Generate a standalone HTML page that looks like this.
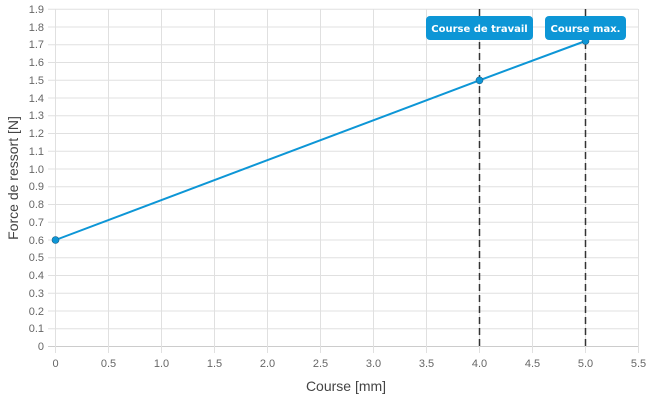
<!DOCTYPE html>
<html><head><style>body{margin:0;background:#fff}svg{display:block}</style></head><body>
<svg width="650" height="400" xmlns="http://www.w3.org/2000/svg" font-family="Liberation Sans, sans-serif">
<g stroke="#e0e0e0" stroke-width="1">
<line x1="48" x2="638" y1="346.5" y2="346.5" stroke="#ccc"/>
<line x1="48" x2="638" y1="328.8" y2="328.8"/><line x1="48" x2="638" y1="311.0" y2="311.0"/><line x1="48" x2="638" y1="293.3" y2="293.3"/><line x1="48" x2="638" y1="275.5" y2="275.5"/><line x1="48" x2="638" y1="257.8" y2="257.8"/><line x1="48" x2="638" y1="240.0" y2="240.0"/><line x1="48" x2="638" y1="222.3" y2="222.3"/><line x1="48" x2="638" y1="204.5" y2="204.5"/><line x1="48" x2="638" y1="186.8" y2="186.8"/><line x1="48" x2="638" y1="169.0" y2="169.0"/><line x1="48" x2="638" y1="151.3" y2="151.3"/><line x1="48" x2="638" y1="133.5" y2="133.5"/><line x1="48" x2="638" y1="115.8" y2="115.8"/><line x1="48" x2="638" y1="98.0" y2="98.0"/><line x1="48" x2="638" y1="80.3" y2="80.3"/><line x1="48" x2="638" y1="62.5" y2="62.5"/><line x1="48" x2="638" y1="44.8" y2="44.8"/><line x1="48" x2="638" y1="27.0" y2="27.0"/><line x1="48" x2="638" y1="9.3" y2="9.3"/>
<line x1="55.5" x2="55.5" y1="9" y2="353"/><line x1="108.5" x2="108.5" y1="9" y2="353"/><line x1="161.5" x2="161.5" y1="9" y2="353"/><line x1="214.5" x2="214.5" y1="9" y2="353"/><line x1="267.5" x2="267.5" y1="9" y2="353"/><line x1="320.5" x2="320.5" y1="9" y2="353"/><line x1="373.5" x2="373.5" y1="9" y2="353"/><line x1="426.5" x2="426.5" y1="9" y2="353"/><line x1="479.5" x2="479.5" y1="9" y2="353"/><line x1="532.5" x2="532.5" y1="9" y2="353"/><line x1="585.5" x2="585.5" y1="9" y2="353"/><line x1="638.5" x2="638.5" y1="9" y2="353"/>
</g>
<g font-size="11" fill="#666" text-anchor="end">
<text x="44" y="350">0</text><text x="44" y="332">0.1</text><text x="44" y="315">0.2</text><text x="44" y="297">0.3</text><text x="44" y="279">0.4</text><text x="44" y="261">0.5</text><text x="44" y="244">0.6</text><text x="44" y="226">0.7</text><text x="44" y="208">0.8</text><text x="44" y="190">0.9</text><text x="44" y="173">1.0</text><text x="44" y="155">1.1</text><text x="44" y="137">1.2</text><text x="44" y="119">1.3</text><text x="44" y="102">1.4</text><text x="44" y="84">1.5</text><text x="44" y="66">1.6</text><text x="44" y="48">1.7</text><text x="44" y="31">1.8</text><text x="44" y="13">1.9</text>
</g>
<g font-size="11" fill="#666" text-anchor="middle">
<text x="55.5" y="367">0</text><text x="108.5" y="367">0.5</text><text x="161.5" y="367">1.0</text><text x="214.5" y="367">1.5</text><text x="267.5" y="367">2.0</text><text x="320.5" y="367">2.5</text><text x="373.5" y="367">3.0</text><text x="426.5" y="367">3.5</text><text x="479.5" y="367">4.0</text><text x="532.5" y="367">4.5</text><text x="585.5" y="367">5.0</text><text x="638.5" y="367">5.5</text>
</g>
<text x="346" y="391" font-size="14" fill="#444" text-anchor="middle">Course [mm]</text>
<text transform="translate(18,178) rotate(-90)" font-size="14" fill="#444" text-anchor="middle">Force de ressort [N]</text>
<g stroke="#333" stroke-width="1.5" stroke-dasharray="7,4">
<line x1="479.5" x2="479.5" y1="9" y2="346"/><line x1="585.5" x2="585.5" y1="9" y2="346"/>
</g>
<polyline points="55.5,240 479.5,80.3 585.5,41" fill="none" stroke="#0d96d6" stroke-width="2"/>
<g fill="#0d96d6" stroke="#1a5f85" stroke-width="0.6"><circle cx="55.5" cy="240" r="3.5"/><circle cx="479.5" cy="80.3" r="3.5"/><circle cx="585.5" cy="41" r="3.5"/></g>
<g fill="#0d96d6"><rect x="426" y="16" width="107" height="24" rx="4"/><rect x="545" y="16" width="81" height="24" rx="4"/></g>
<g font-family="DejaVu Sans, sans-serif" font-weight="bold" font-size="10" fill="#fff" text-anchor="middle">
<text x="479.5" y="32">Course de travail</text><text x="585.5" y="32">Course max.</text>
</g>
</svg>
</body></html>
